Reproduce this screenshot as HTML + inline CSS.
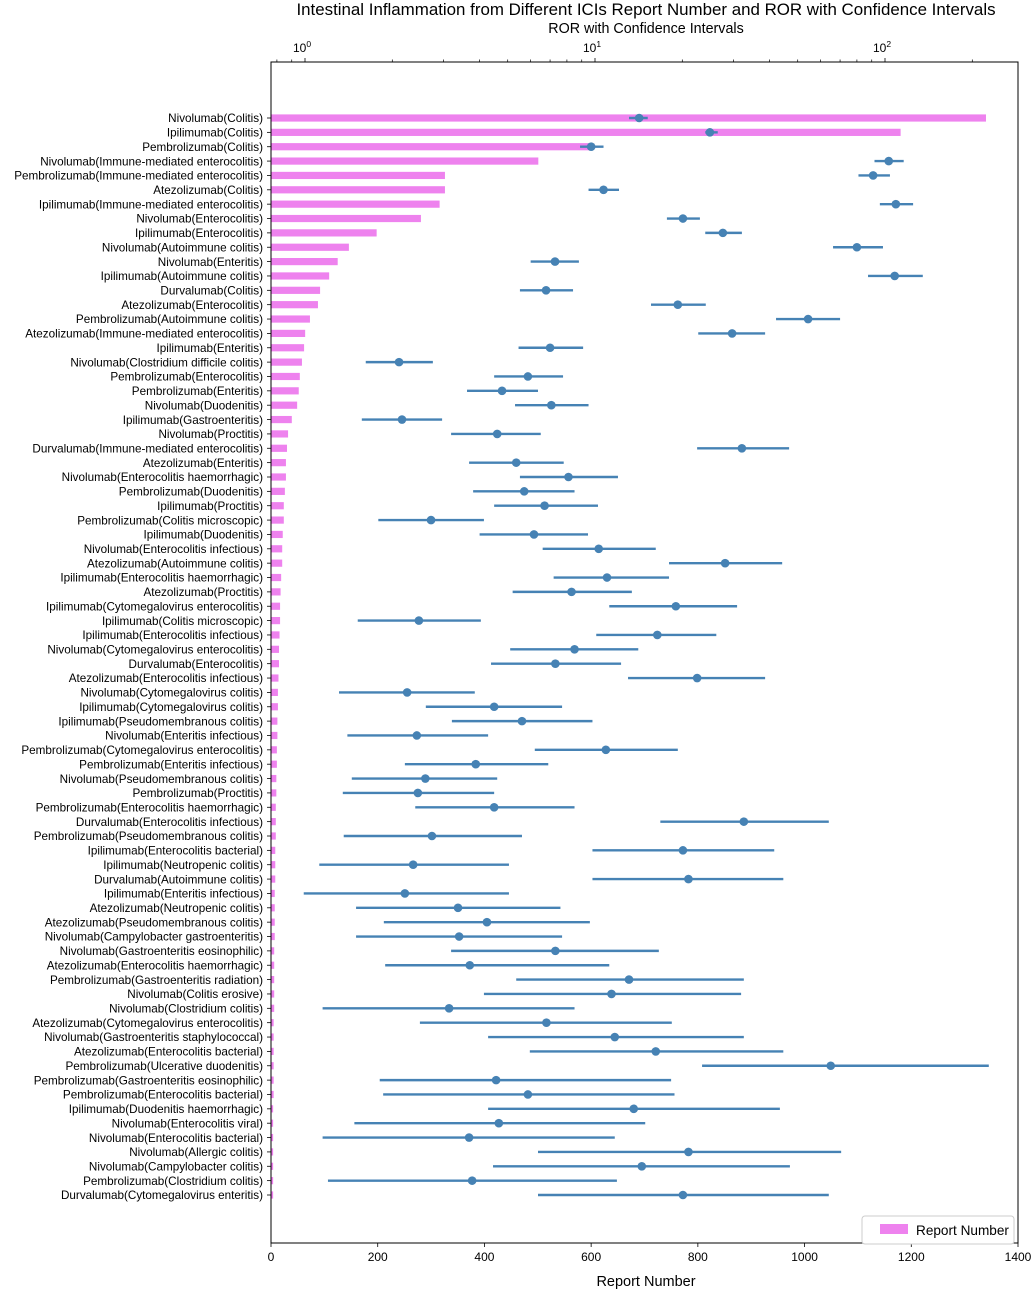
<!DOCTYPE html>
<html><head><meta charset="utf-8"><style>
body{margin:0;background:#fff;}
svg{display:block;font-family:"Liberation Sans",Arial,sans-serif;}
</style></head><body>
<svg id="chart" width="1031" height="1292" viewBox="0 0 1031 1292" xmlns="http://www.w3.org/2000/svg">
<text x="646" y="15" font-size="16.9" text-anchor="middle" fill="#000">Intestinal Inflammation from Different ICIs Report Number and ROR with Confidence Intervals</text>
<text x="646" y="33" font-size="14.3" text-anchor="middle" fill="#000">ROR with Confidence Intervals</text>
<text x="646" y="1286" font-size="14.5" text-anchor="middle" fill="#000">Report Number</text>
<g id="plot"></g>
</svg>
<script>
const labels=["Nivolumab(Colitis)","Ipilimumab(Colitis)","Pembrolizumab(Colitis)","Nivolumab(Immune-mediated enterocolitis)","Pembrolizumab(Immune-mediated enterocolitis)","Atezolizumab(Colitis)","Ipilimumab(Immune-mediated enterocolitis)","Nivolumab(Enterocolitis)","Ipilimumab(Enterocolitis)","Nivolumab(Autoimmune colitis)","Nivolumab(Enteritis)","Ipilimumab(Autoimmune colitis)","Durvalumab(Colitis)","Atezolizumab(Enterocolitis)","Pembrolizumab(Autoimmune colitis)","Atezolizumab(Immune-mediated enterocolitis)","Ipilimumab(Enteritis)","Nivolumab(Clostridium difficile colitis)","Pembrolizumab(Enterocolitis)","Pembrolizumab(Enteritis)","Nivolumab(Duodenitis)","Ipilimumab(Gastroenteritis)","Nivolumab(Proctitis)","Durvalumab(Immune-mediated enterocolitis)","Atezolizumab(Enteritis)","Nivolumab(Enterocolitis haemorrhagic)","Pembrolizumab(Duodenitis)","Ipilimumab(Proctitis)","Pembrolizumab(Colitis microscopic)","Ipilimumab(Duodenitis)","Nivolumab(Enterocolitis infectious)","Atezolizumab(Autoimmune colitis)","Ipilimumab(Enterocolitis haemorrhagic)","Atezolizumab(Proctitis)","Ipilimumab(Cytomegalovirus enterocolitis)","Ipilimumab(Colitis microscopic)","Ipilimumab(Enterocolitis infectious)","Nivolumab(Cytomegalovirus enterocolitis)","Durvalumab(Enterocolitis)","Atezolizumab(Enterocolitis infectious)","Nivolumab(Cytomegalovirus colitis)","Ipilimumab(Cytomegalovirus colitis)","Ipilimumab(Pseudomembranous colitis)","Nivolumab(Enteritis infectious)","Pembrolizumab(Cytomegalovirus enterocolitis)","Pembrolizumab(Enteritis infectious)","Nivolumab(Pseudomembranous colitis)","Pembrolizumab(Proctitis)","Pembrolizumab(Enterocolitis haemorrhagic)","Durvalumab(Enterocolitis infectious)","Pembrolizumab(Pseudomembranous colitis)","Ipilimumab(Enterocolitis bacterial)","Ipilimumab(Neutropenic colitis)","Durvalumab(Autoimmune colitis)","Ipilimumab(Enteritis infectious)","Atezolizumab(Neutropenic colitis)","Atezolizumab(Pseudomembranous colitis)","Nivolumab(Campylobacter gastroenteritis)","Nivolumab(Gastroenteritis eosinophilic)","Atezolizumab(Enterocolitis haemorrhagic)","Pembrolizumab(Gastroenteritis radiation)","Nivolumab(Colitis erosive)","Nivolumab(Clostridium colitis)","Atezolizumab(Cytomegalovirus enterocolitis)","Nivolumab(Gastroenteritis staphylococcal)","Atezolizumab(Enterocolitis bacterial)","Pembrolizumab(Ulcerative duodenitis)","Pembrolizumab(Gastroenteritis eosinophilic)","Pembrolizumab(Enterocolitis bacterial)","Ipilimumab(Duodenitis haemorrhagic)","Nivolumab(Enterocolitis viral)","Nivolumab(Enterocolitis bacterial)","Nivolumab(Allergic colitis)","Nivolumab(Campylobacter colitis)","Pembrolizumab(Clostridium colitis)","Durvalumab(Cytomegalovirus enteritis)"];
const reports=[1340,1180,600,501,326,326,316,281,198,146,125,109,92,88,73,64,62,58,54,52,49,39,32,30,28,28,26,24,24,22,21,21,19,18,17,17,16,15,15,14,13,13,12,12,11,11,10,10,9,9,9,8,8,8,7,7,7,7,6,6,6,6,6,5,5,5,5,5,5,4,4,4,4,4,4,4];
const ror=[14.2,24.9,9.7,103,91,10.7,109,20.1,27.6,80,7.28,108,6.78,19.3,54.3,29.7,7.0,2.11,5.87,4.78,7.07,2.16,4.6,32.1,5.35,8.1,5.7,6.7,2.72,6.16,10.3,28.1,11.0,8.3,19.0,2.47,16.4,8.5,7.3,22.5,2.25,4.49,5.6,2.43,10.9,3.88,2.6,2.45,4.49,32.6,2.74,20.1,2.36,21,2.21,3.37,4.24,3.4,7.3,3.7,13.1,11.4,3.14,6.8,11.7,16.2,65,4.56,5.87,13.6,4.66,3.68,21.0,14.5,3.77,20.1];
const rorLow=[13.1,24.0,8.88,92,81,9.5,96,17.7,24.0,66.2,6.0,87.4,5.51,15.6,42.1,22.7,5.45,1.62,4.49,3.62,5.3,1.57,3.19,22.5,3.68,5.51,3.8,4.49,1.79,4.0,6.6,18.0,7.2,5.2,11.2,1.52,10.1,5.1,4.38,13.0,1.31,2.61,3.21,1.40,6.2,2.21,1.45,1.35,2.4,16.8,1.36,9.8,1.12,9.8,0.99,1.5,1.87,1.5,3.19,1.89,5.35,4.14,1.15,2.49,4.28,5.96,23.4,1.81,1.86,4.28,1.48,1.15,6.36,4.45,1.2,6.36];
const rorHigh=[15.2,26.5,10.7,116,104,12.1,125,23.0,32.1,98.4,8.8,135,8.4,24.1,70,38.6,9.1,2.76,7.76,6.36,9.5,2.97,6.5,46.7,7.8,12.0,8.5,10.24,4.14,9.46,16.2,44.2,18.0,13.4,30.9,4.04,26.2,14.1,12.3,38.6,3.85,7.7,9.8,4.28,19.3,6.9,4.6,4.49,8.5,64,5.6,41.5,5.05,44.6,5.05,7.6,9.6,7.7,16.6,11.2,32.6,31.9,8.5,18.4,32.6,44.6,228,18.3,18.8,43.4,14.9,11.7,70.6,47.0,11.9,64];
const reportTicks=[0,200,400,600,800,1000,1200,1400];
const logTicks=[0,1,2];

const NS="http://www.w3.org/2000/svg";
const L=271,R=1018,T=62,B=1243;
const xLin=v=>L+v*(R-L)/1400;
const X0=305,DEC=290;
const xLog=v=>X0+Math.log10(v)*DEC;
const y0=118,dy=(1195-118)/75;
const yRow=i=>y0+i*dy;
const g=document.getElementById('plot');
function mk(tag,attrs,parent){const e=document.createElementNS(NS,tag);for(const k in attrs)e.setAttribute(k,attrs[k]);(parent||g).appendChild(e);return e;}

labels.forEach((lab,i)=>{
  const b=mk('rect',{x:L,y:yRow(i)-3.6,width:xLin(reports[i])-L,height:7.2,fill:'#ee82ee'});
  
  
  const t=mk('text',{x:L-8,y:yRow(i)+4.2,'font-size':11.7,'text-anchor':'end',fill:'#000'});
  t.textContent=lab;
  
  
  mk('line',{x1:L-4,x2:L,y1:yRow(i),y2:yRow(i),stroke:'#000','stroke-width':0.8});
});
labels.forEach((lab,i)=>{
  const ln=mk('line',{x1:xLog(rorLow[i]),x2:xLog(rorHigh[i]),y1:yRow(i),y2:yRow(i),stroke:'#4682b4','stroke-width':2.4});
  
  
  const c=mk('circle',{cx:xLog(ror[i]),cy:yRow(i),r:4.3,fill:'#4682b4'});
  
  
});
const fr=mk('rect',{x:L,y:T,width:R-L,height:B-T,fill:'none',stroke:'#000','stroke-width':1});


reportTicks.forEach(v=>{
  mk('line',{x1:xLin(v),x2:xLin(v),y1:B,y2:B+4,stroke:'#000','stroke-width':0.8});
  const t=mk('text',{x:xLin(v),y:B+18,'font-size':12,'text-anchor':'middle',fill:'#000'});
  t.textContent=v;
  
  
});
logTicks.forEach(p=>{
  const x=xLog(Math.pow(10,p));
  mk('line',{x1:x,x2:x,y1:T,y2:T-4,stroke:'#000','stroke-width':0.8});
  const t=mk('text',{x:x-3,y:T-10,'font-size':12,'text-anchor':'middle',fill:'#000'});
  t.textContent='10';
  const s=document.createElementNS(NS,'tspan');s.setAttribute('dy','-5');s.setAttribute('font-size','8.5');s.textContent=p;t.appendChild(s);
  
  
});
for(let p=-1;p<=2;p++){for(let m=2;m<=9;m++){const x=xLog(m*Math.pow(10,p));if(x>L&&x<R)mk('line',{x1:x,x2:x,y1:T,y2:T-2.5,stroke:'#000','stroke-width':0.7});}}
const lg=mk('g',{});


mk('rect',{x:862,y:1216,width:152,height:28,rx:3,fill:'#fff',stroke:'#ccc','stroke-width':1},lg);
mk('rect',{x:880,y:1224,width:28,height:10,fill:'#ee82ee'},lg);
const lt=mk('text',{x:916,y:1235,'font-size':13.6,fill:'#000'},lg);
lt.textContent='Report Number';


</script>
</body></html>
